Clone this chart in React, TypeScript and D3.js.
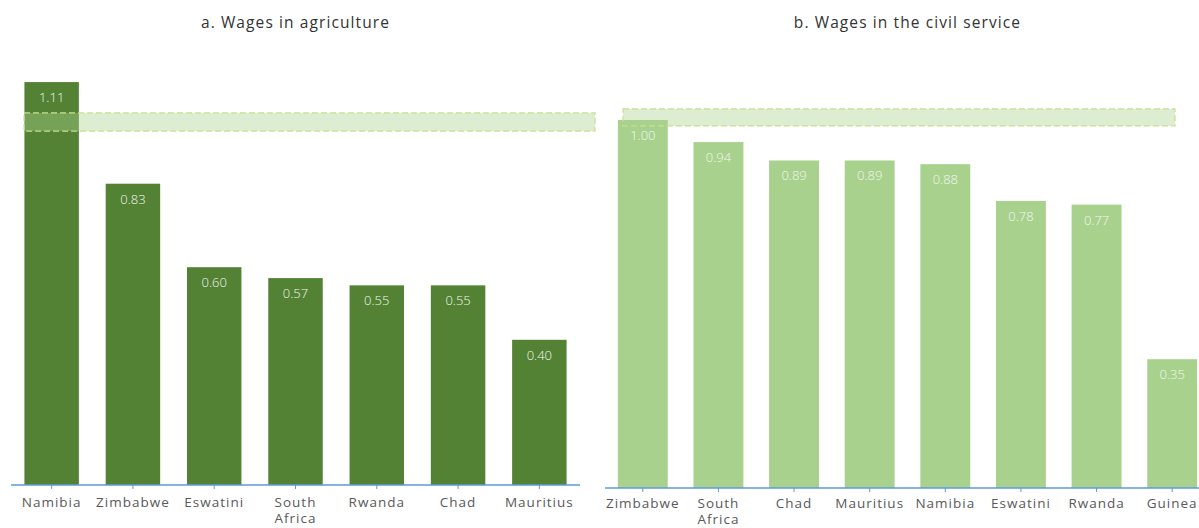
import { useMemo } from 'react'
import * as d3 from 'd3'

// --- DATA ---
const agriCountries = ['Namibia', 'Zimbabwe', 'Eswatini', 'South Africa', 'Rwanda', 'Chad', 'Mauritius']
const agriValues = [1.11, 0.83, 0.6, 0.57, 0.55, 0.55, 0.4]
const agriBand = [0.975, 1.025]

const civilCountries = ['Zimbabwe', 'South Africa', 'Chad', 'Mauritius', 'Namibia', 'Eswatini', 'Rwanda', 'Guinea']
const civilValues = [1.0, 0.94, 0.89, 0.89, 0.88, 0.78, 0.77, 0.35]
const civilBand = [0.984, 1.03]

const titles = ['a. Wages in agriculture', 'b. Wages in the civil service']

const W = 1199
const H = 528
const FONT = '"Open Sans", "Noto Sans", sans-serif'

type PanelProps = {
  title: string
  countries: string[]
  values: number[]
  band: number[]
  x0: number
  x1: number
  baseline: number
  pxPerUnit: number
  barColor: string
  padding: number
  bandX: [number, number]
  labelGap: number
}

function Panel({ title, countries, values, band, x0, x1, baseline, pxPerUnit, barColor, padding, bandX, labelGap }: PanelProps) {
  const x = useMemo(
    () => d3.scaleBand<string>().domain(countries).range([x0, x1]).paddingInner(padding).paddingOuter(padding / 2),
    [countries, x0, x1, padding]
  )
  const y = useMemo(
    () => d3.scaleLinear().domain([0, 1.2]).range([baseline, baseline - 1.2 * pxPerUnit]),
    [baseline, pxPerUnit]
  )
  const bw = x.bandwidth()
  const cx = (c: string) => (x(c) ?? 0) + bw / 2

  return (
    <g>
      <text
        x={(x0 + x1) / 2}
        y={28}
        textAnchor="middle"
        fontFamily={FONT}
        fontSize={15.5}
        letterSpacing={1.1}
        fill="#333"
      >
        {title}
      </text>

      {countries.map((c, i) => (
        <rect key={c} x={x(c)} y={y(values[i])} width={bw} height={baseline - y(values[i])} fill={barColor} />
      ))}

      {/* reference band */}
      <rect
        x={bandX[0]}
        y={y(band[1])}
        width={bandX[1] - bandX[0]}
        height={y(band[0]) - y(band[1])}
        fill="#a9d18e"
        fillOpacity={0.4}
        stroke="#c8df8f"
        strokeWidth={1.2}
        strokeDasharray="6,3"
      />

      {countries.map((c, i) => (
        <text
          key={c}
          x={cx(c)}
          y={y(values[i]) + 20}
          textAnchor="middle"
          fontFamily={FONT}
          fontSize={13}
          fontWeight={300}
          fill="#f2f7ee"
        >
          {values[i].toFixed(2)}
        </text>
      ))}

      {/* axis */}
      <line x1={x0} x2={x1} y1={baseline} y2={baseline} stroke="#5b9bd5" strokeWidth={1.5} />
      {countries.map((c) => (
        <line key={c} x1={cx(c)} x2={cx(c)} y1={baseline} y2={baseline + 4} stroke="#5b9bd5" strokeWidth={1} />
      ))}
      {countries.flatMap((c) =>
        c.split(' ').map((w, k) => (
          <text
            key={c + k}
            x={cx(c)}
            y={baseline + labelGap + k * 16}
            textAnchor="middle"
            fontFamily={FONT}
            fontSize={13.5}
            letterSpacing={1}
            fill="#595959"
          >
            {w}
          </text>
        ))
      )}
    </g>
  )
}

export default function App() {
  return (
    <div style={{ position: 'fixed', left: 0, top: 0, width: W, height: H, overflow: 'hidden', background: '#fff' }}>
      <svg width={W} height={H} style={{ display: 'block' }}>
        <Panel
          title={titles[0]}
          countries={agriCountries}
          values={agriValues}
          band={agriBand}
          x0={11}
          x1={580}
          baseline={485}
          pxPerUnit={363}
          barColor="#548235"
          padding={0.33}
          bandX={[24, 595]}
          labelGap={22}
        />
        <Panel
          title={titles[1]}
          countries={civilCountries}
          values={civilValues}
          band={civilBand}
          x0={605}
          x1={1210}
          baseline={488}
          pxPerUnit={368}
          barColor="#a9d18e"
          padding={0.34}
          bandX={[623, 1175]}
          labelGap={20}
        />
      </svg>
    </div>
  )
}
